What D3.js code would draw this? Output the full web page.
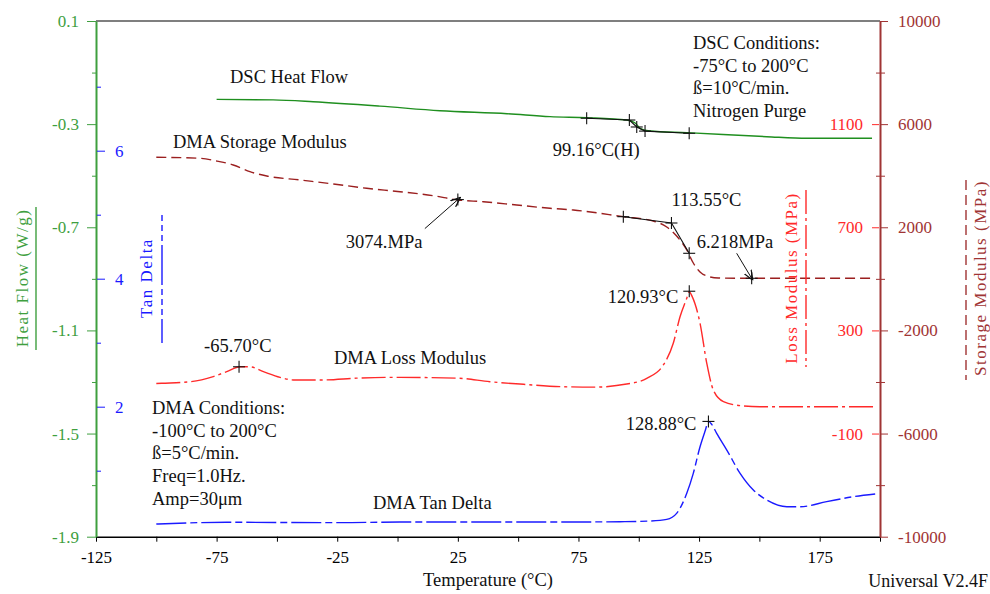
<!DOCTYPE html>
<html>
<head>
<meta charset="utf-8">
<script src="https://cdn.jsdelivr.net/npm/d3@7"></script>
<style>
  body { margin: 0; background: #fff; }
  svg text { font-family: "Liberation Serif", "Times New Roman", serif; font-size: 18.5px; }
</style>
</head>
<body>
<svg id="chart" width="990" height="594"></svg>
<script>
// temperature in degC
var dscTemp = [-75, -51.6, -35, -7.3, 17.6, 45.4, 63.2, 78.4, 95, 98.5, 100.5, 104.7, 119.9, 153, 169.6, 196.7];
var dscFlow = [-0.204, -0.206, -0.213, -0.230, -0.248, -0.2595, -0.271, -0.275, -0.284, -0.2956, -0.316, -0.3266, -0.333, -0.3487, -0.355, -0.355];

var stoTemp = [-100, -81.9, -75, -68.1, -61.2, -54.2, -40.4, -26.6, -12.8, 1, 14.8, 25.2, 35.6, 49.4, 63.2, 72.9, 93.6, 106, 111.6, 115.7, 119.9, 122.6, 125.4, 128.2, 133, 142, 197];
var stoMod = [4714, 4676, 4571, 4416, 4156, 3989, 3834, 3679, 3512, 3380, 3225, 3058, 2992, 2864, 2736, 2671, 2411, 2244, 2011, 1662, 1119, 615, 266, 111, 34, 22, 22];

var lossTemp = [-100, -97.8, -86, -76.4, -70.8, -65.3, -61.2, -55.6, -48.7, -43.2, -30.8, -16.9, -3.1, 24.5, 38.3, 52.2, 67.4, 81.2, 95, 103.3, 110.2, 114.3, 117.1, 119.9, 120.9, 122.2, 125.4, 128.2, 130.9, 135.1, 143.4, 150.3, 198.7];
var lossMod = [94, 95, 101, 121, 140, 159, 159, 140, 118, 108, 108, 115, 118, 115, 101, 91, 82, 80, 92, 114, 166, 250, 353, 425, 450, 430, 328, 172, 69, 24, 7, 4, 4];

var tanTemp = [-100, -70.8, -23.8, 1, 42.5, 67.4, 92.2, 104.7, 111.6, 115.7, 119.9, 122.6, 125.4, 127.5, 128.9, 130.3, 132.3, 136.5, 142, 147.5, 153.1, 161.4, 166.9, 177.9, 189, 198];
var tanDelta = [0.167, 0.194, 0.188, 0.198, 0.198, 0.198, 0.203, 0.214, 0.24, 0.334, 0.647, 0.959, 1.375, 1.62, 1.77, 1.72, 1.584, 1.323, 0.959, 0.698, 0.542, 0.4375, 0.4375, 0.516, 0.594, 0.636];

// tick values
var xTicks = d3.range(-125, 201, 25);
var xLabels = [-125, -75, -25, 25, 75, 125, 175];
var hfTicks = [0.1, -0.3, -0.7, -1.1, -1.5, -1.9];
var hfMinor = [-0.1, -0.5, -0.9, -1.3, -1.7];
var tanTicks = [2, 4, 6];
var tanMinor = [1, 3, 5, 7];
var lossTicks = [1100, 700, 300, -100];
var stoTicks = [10000, 6000, 2000, -2000, -6000, -10000];
var stoMinor = [8000, 4000, 0, -4000, -8000];

// analysis marks
var dscOnset = [[78.4, -0.277], [96.1, -0.284], [99.16, -0.311], [102.6, -0.327], [120.9, -0.3355]];
var stoOnset = [[93.6, 2411], [113.55, 2166], [120.9, 991]];

var green = "#3f9f3f", greenLine = "#1f8f1f", blue = "#1a1aff", red = "#ff2a2a", darkRed = "#a03434", stoLine = "#9b1f1f";
var plain = d => String(d);

var svg = d3.select("#chart");

var x = d3.scaleLinear().domain([-125, 200]).range([96, 880]);
var yHF = d3.scaleLinear().domain([-1.9, 0.1]).range([536.7, 21]);
var yTan = d3.scaleLinear().domain([0, 6]).range([534.7, 150.7]);
var yLoss = d3.scaleLinear().domain([-500, 1500]).range([536.7, 21]);
var ySto = d3.scaleLinear().domain([-10000, 10000]).range([536.7, 21]);

// top frame line
svg.append("line")
  .attr("x1", x(-125)).attr("x2", x(200))
  .attr("y1", yHF(0.1)).attr("y2", yHF(0.1))
  .attr("stroke", "#555").attr("stroke-width", 1.5);

// bottom axis
var xAxis = svg.append("g")
  .attr("transform", "translate(0," + yHF(-1.9) + ")")
  .call(d3.axisBottom(x).tickValues(xTicks).tickSize(5).tickSizeOuter(0)
    .tickFormat(d => xLabels.indexOf(d) >= 0 ? String(d) : ""));
xAxis.select(".domain").attr("stroke", "#000").attr("stroke-width", 1.5);
xAxis.selectAll("text").attr("fill", "#000").attr("dy", "1.1em").style("font-size", "17px");

// left heat flow axis
var hfAxis = svg.append("g")
  .attr("transform", "translate(" + x(-125) + ",0)")
  .call(d3.axisLeft(yHF).tickValues(hfTicks).tickSize(9).tickPadding(8).tickSizeOuter(0)
    .tickFormat(d => d.toFixed(1)));
hfAxis.select(".domain").attr("stroke", green).attr("stroke-width", 2);
hfAxis.selectAll("line").attr("stroke", green);
hfAxis.selectAll("text").attr("fill", green).style("font-size", "17px");
svg.append("g")
  .attr("transform", "translate(" + x(-125) + ",0)")
  .call(d3.axisLeft(yHF).tickValues(hfMinor).tickSize(4).tickFormat(""))
  .call(g => g.select(".domain").remove())
  .selectAll("line").attr("stroke", green);

// tan delta ticks on the same spine
var tanAxis = svg.append("g")
  .attr("transform", "translate(" + (x(-125) + 1) + ",0)")
  .call(d3.axisRight(yTan).tickValues(tanTicks).tickSize(8).tickPadding(10).tickFormat(plain));
tanAxis.select(".domain").remove();
tanAxis.selectAll("line").attr("stroke", blue);
tanAxis.selectAll("text").attr("fill", blue).style("font-size", "17px");
svg.append("g")
  .attr("transform", "translate(" + (x(-125) + 1) + ",0)")
  .call(d3.axisRight(yTan).tickValues(tanMinor).tickSize(4).tickFormat(""))
  .call(g => g.select(".domain").remove())
  .selectAll("line").attr("stroke", blue);

// right storage axis
var stoAxis = svg.append("g")
  .attr("transform", "translate(" + x(200) + ",0)")
  .call(d3.axisRight(ySto).tickValues(stoTicks).tickSize(8).tickPadding(10).tickSizeOuter(0).tickFormat(plain));
stoAxis.select(".domain").attr("stroke", darkRed).attr("stroke-width", 2);
stoAxis.selectAll("line").attr("stroke", darkRed);
stoAxis.selectAll("text").attr("fill", darkRed).style("font-size", "17px");
svg.append("g")
  .attr("transform", "translate(" + x(200) + ",0)")
  .call(d3.axisRight(ySto).tickValues(stoMinor).tickSize(5).tickFormat(""))
  .call(g => g.select(".domain").remove())
  .selectAll("line").attr("stroke", darkRed);
svg.append("g")
  .attr("transform", "translate(" + x(200) + ",0)")
  .call(d3.axisLeft(ySto).tickValues(stoMinor).tickSize(4).tickFormat(""))
  .call(g => g.select(".domain").remove())
  .selectAll("line").attr("stroke", darkRed);

// loss modulus ticks on the right spine
var lossAxis = svg.append("g")
  .attr("transform", "translate(" + (x(200) - 1) + ",0)")
  .call(d3.axisLeft(yLoss).tickValues(lossTicks).tickSize(7).tickPadding(9).tickFormat(plain));
lossAxis.select(".domain").remove();
lossAxis.selectAll("line").attr("stroke", red);
lossAxis.selectAll("text").attr("fill", red).style("font-size", "17px");

// curves
function drawCurve(tArr, vArr, yScale, color, dash) {
  var pts = tArr.map((t, i) => [t, vArr[i]]);
  svg.append("path")
    .datum(pts)
    .attr("fill", "none")
    .attr("stroke", color)
    .attr("stroke-width", 1.4)
    .attr("stroke-dasharray", dash)
    .attr("d", d3.line().x(d => x(d[0])).y(d => yScale(d[1])).curve(d3.curveMonotoneX));
}
drawCurve(dscTemp, dscFlow, yHF, greenLine, null);
drawCurve(stoTemp, stoMod, ySto, stoLine, "10,5");
drawCurve(lossTemp, lossMod, yLoss, red, "24,4,3,4");
drawCurve(tanTemp, tanDelta, yTan, blue, "30,4,7,4");

// analysis lines
function polyline(pts, yScale) {
  svg.append("path")
    .datum(pts)
    .attr("fill", "none").attr("stroke", "#111").attr("stroke-width", 1.1)
    .attr("d", d3.line().x(d => x(d[0])).y(d => yScale(d[1])));
}
function cross(t, v, yScale) {
  var cx = x(t), cy = yScale(v);
  svg.append("line").attr("x1", cx).attr("x2", cx).attr("y1", cy - 6).attr("y2", cy + 6)
    .attr("stroke", "#111").attr("stroke-width", 1.1);
  svg.append("line").attr("x1", cx - 6).attr("x2", cx + 6).attr("y1", cy).attr("y2", cy)
    .attr("stroke", "#111").attr("stroke-width", 1.1);
}
polyline(dscOnset, yHF);
dscOnset.forEach(d => cross(d[0], d[1], yHF));
polyline(stoOnset, ySto);
stoOnset.forEach(d => cross(d[0], d[1], ySto));
cross(25, 3074, ySto);
cross(146.8, 22, ySto);
cross(-65.7, 159, yLoss);
cross(120.93, 452, yLoss);
cross(128.88, 1.77, yTan);

// arrows
var defs = svg.append("defs");
defs.append("marker")
  .attr("id", "arr").attr("viewBox", "0 0 10 10").attr("refX", 10).attr("refY", 5)
  .attr("markerWidth", 10).attr("markerHeight", 10).attr("orient", "auto")
  .attr("markerUnits", "userSpaceOnUse")
  .append("path").attr("d", "M0,1 L10,5 L0,9").attr("fill", "none").attr("stroke", "#111").attr("stroke-width", 1.2);
function arrow(t, v, yScale, dx, dy) {
  var ex = x(t), ey = yScale(v);
  svg.append("line")
    .attr("x1", ex + dx).attr("y1", ey + dy).attr("x2", ex - dx * 0.08).attr("y2", ey - dy * 0.08)
    .attr("stroke", "#111").attr("stroke-width", 1).attr("marker-end", "url(#arr)");
}
arrow(25, 3074, ySto, -33, 29);
arrow(146.8, 22, ySto, -15, -25);

// annotation text
function label(txt, px, py, anchor, color) {
  return svg.append("text").attr("x", px).attr("y", py).attr("dy", "0.35em")
    .attr("text-anchor", anchor || "start").attr("fill", color || "#111").text(txt);
}
label("DSC Heat Flow", 230, 77);
label("DMA Storage Modulus", 173, 142);
label("DMA Loss Modulus", 334, 358);
label("DMA Tan Delta", 373, 503);
label("99.16\u00B0C(H)", x(99.16) - 84, 150);
label("3074.MPa", x(25) - 112, ySto(3074) + 42);
label("113.55\u00B0C", x(113.55), ySto(2166) - 23);
label("6.218MPa", x(146.8) - 55, ySto(22) - 37);
label("120.93\u00B0C", x(120.93) - 11, yLoss(452) + 5, "end");
label("-65.70\u00B0C", x(-65.7) - 35, yLoss(159) - 21);
label("128.88\u00B0C", x(128.88) - 12, yTan(1.77) + 2, "end");

var dscCond = ["DSC Conditions:", "-75\u00B0C to 200\u00B0C", "\u00DF=10\u00B0C/min.", "Nitrogen Purge"];
dscCond.forEach((s, i) => label(s, 693, 43 + i * 22.4));
var dmaCond = ["DMA Conditions:", "-100\u00B0C to 200\u00B0C", "\u00DF=5\u00B0C/min.", "Freq=1.0Hz.", "Amp=30\u03BCm"];
dmaCond.forEach((s, i) => label(s, 152, 407.5 + i * 22.7));

// axis titles with line-style keys
function vTitle(txt, cx, cy, color, keyX, keyY0, keyY1, dash) {
  svg.append("text")
    .attr("transform", "translate(" + cx + "," + cy + ") rotate(-90)")
    .attr("text-anchor", "middle").attr("dy", "0.35em")
    .attr("fill", color).style("font-size", "17px").style("letter-spacing", "1.5px").text(txt);
  svg.append("line").attr("x1", keyX).attr("x2", keyX).attr("y1", keyY0).attr("y2", keyY1)
    .attr("stroke", color).attr("stroke-width", 1.4).attr("stroke-dasharray", dash);
}
vTitle("Heat Flow (W/g)", 22, 278, green, 36, 207, 350, null);
vTitle("Tan Delta", 146, 278, blue, 162, 215, 343, "6,4,6,4,6,4,40,4");
vTitle("Loss Modulus (MPa)", 791, 278, red, 806, 190, 367, "24,4,3,4");
vTitle("Storage Modulus (MPa)", 980, 278, darkRed, 966, 180, 380, "10,5");

label("Temperature (\u00B0C)", 488, 580, "middle");
label("Universal V2.4F", 988, 581, "end").style("font-size", "18px");
</script>
</body>
</html>
